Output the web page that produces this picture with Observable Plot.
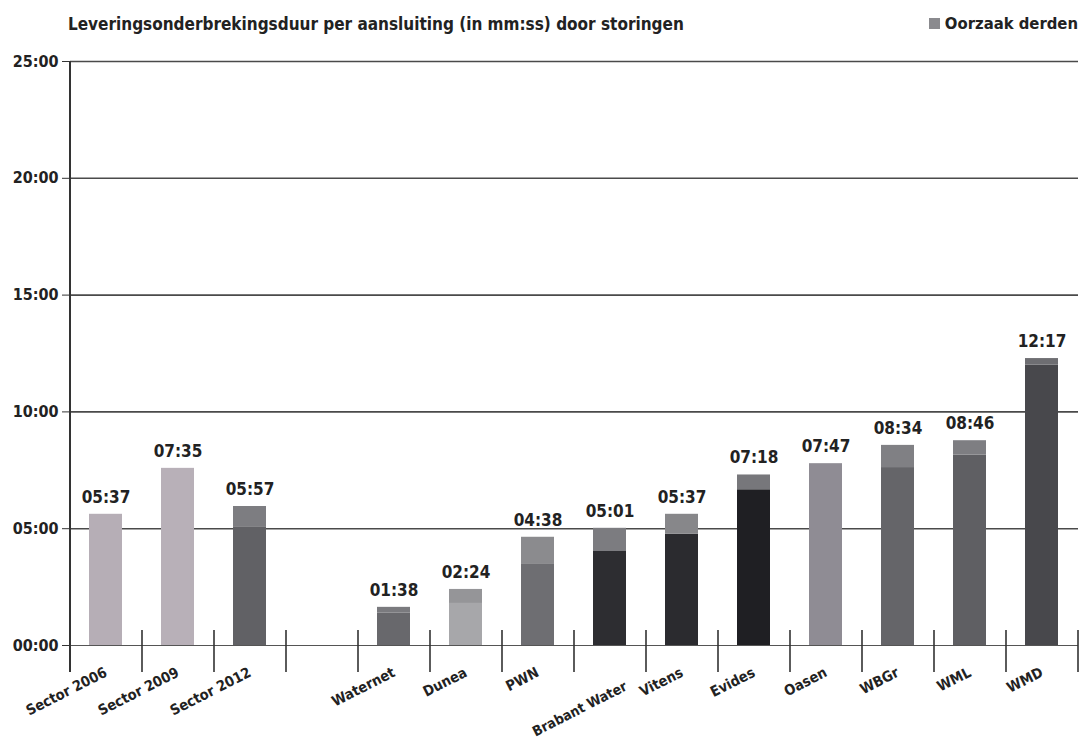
<!DOCTYPE html>
<html>
<head>
<meta charset="utf-8">
<script src="https://cdn.jsdelivr.net/npm/d3@7"></script>
<script src="https://cdn.jsdelivr.net/npm/@observablehq/plot@0.6"></script>
<style>
  html, body { margin: 0; padding: 0; background: #fff; }
  body { width: 1081px; height: 740px; overflow: hidden; font-family: "DejaVu Sans Condensed", "Liberation Sans Narrow", sans-serif; font-stretch: condensed; color: #222; }
  #header { position: relative; height: 40px; }
  #title { position: absolute; left: 68px; top: 14px; font-size: 17px; font-weight: bold; white-space: nowrap; }
  #legend { position: absolute; right: 3px; top: 14px; font-size: 16.5px; font-weight: bold; white-space: nowrap; display: flex; align-items: center; }
  #legend .sw { width: 11px; height: 11px; background: #8a8a8e; margin-right: 5px; display: inline-block; }
</style>
</head>
<body>
<div id="header">
  <div id="title">Leveringsonderbrekingsduur per aansluiting (in mm:ss) door storingen</div>
  <div id="legend"><span class="sw"></span>Oorzaak derden</div>
</div>
<div id="chart"></div>
<script>
// ---- data ----
const categories = ["Sector 2006", "Sector 2009", "Sector 2012", "Waternet", "Dunea", "PWN", "Brabant Water", "Vitens", "Evides", "Oasen", "WBGr", "WML", "WMD"];
const totals     = ["05:37", "07:35", "05:57", "01:38", "02:24", "04:38", "05:01", "05:37", "07:18", "07:47", "08:34", "08:46", "12:17"];
const derden     = ["00:00", "00:00", "00:52", "00:15", "00:36", "01:08", "00:58", "00:51", "00:38", "00:00", "00:57", "00:37", "00:17"];
const yTicks     = [0, 5, 10, 15, 20, 25];
const gapAfter   = "Sector 2012"; // empty slot between sector averages and companies
const lowered    = ["Brabant Water"]; // label placed on a second row

// ---- styles ----
const barColors = {
  "Sector 2006":   ["#b6aeb6", "#b6aeb6"],
  "Sector 2009":   ["#b8b0b8", "#b8b0b8"],
  "Sector 2012":   ["#616165", "#7d7d81"],
  "Waternet":      ["#68686c", "#7a7a7e"],
  "Dunea":         ["#a7a7aa", "#959598"],
  "PWN":           ["#6e6e72", "#8b8b8e"],
  "Brabant Water": ["#2d2d31", "#7c7c80"],
  "Vitens":        ["#2b2b2f", "#87878a"],
  "Evides":        ["#1f1f23", "#77777b"],
  "Oasen":         ["#8f8c94", "#8f8c94"],
  "WBGr":          ["#656569", "#808084"],
  "WML":           ["#5f5f63", "#7e7e82"],
  "WMD":           ["#48484c", "#6e6e72"]
};
const fontFamily = '"DejaVu Sans Condensed", "Liberation Sans Narrow", sans-serif';

// ---- helpers ----
const toMin = s => { const [m, ss] = s.split(":").map(Number); return m + ss / 60; };
const fmt = v => String(Math.round(v)).padStart(2, "0") + ":00";

const GAP = "\u2002";
const domain = [];
categories.forEach(c => { domain.push(c); if (c === gapAfter) domain.push(GAP); });

const segs = [];
categories.forEach((c, i) => {
  const t = toMin(totals[i]), d = toMin(derden[i]);
  segs.push({cat: c, part: "other", value: t - d, color: barColors[c][0]});
  if (d > 0) segs.push({cat: c, part: "derden", value: d, color: barColors[c][1]});
});
const labels = categories.map((c, i) => ({cat: c, total: toMin(totals[i]), text: totals[i]}));

const W = 1081, H = 700;
const mL = 70, mR = 3, mT = 21, mB = 95;
const step = (W - mL - mR) / domain.length;

const chart = Plot.plot({
  width: W,
  height: H,
  marginLeft: mL,
  marginRight: mR,
  marginTop: mT,
  marginBottom: mB,
  style: {fontFamily, fontWeight: "bold", color: "#222", background: "#fff", overflow: "visible"},
  x: {domain, axis: null, paddingInner: 0.54, paddingOuter: 0.27},
  y: {domain: [0, 25], axis: null},
  color: {type: "identity"},
  marks: [
    Plot.ruleY(yTicks.filter(v => v > 0), {stroke: "#4a4a4a", strokeWidth: 1.6}),
    Plot.ruleY([0], {stroke: "#555", strokeWidth: 1}),
    Plot.axisY({ticks: yTicks, tickFormat: fmt, tickSize: 8, tickPadding: 4, label: null, fontSize: 16, fontWeight: "bold", stroke: "#333"}),
    Plot.barY(segs, {x: "cat", y: "value", fill: "color"}),
    // vertical axis line
    Plot.ruleX([categories[0]], {x: d => d, y1: () => 25, y2: () => 0, dx: -step / 2, insetBottom: -27, stroke: "#333", strokeWidth: 2}),
    // category separator ticks
    Plot.ruleX(domain.slice(1), {x: d => d, y1: () => 0, y2: () => 0, dx: -step / 2, insetTop: -15, insetBottom: -27, stroke: "#333", strokeWidth: 1.6}),
    Plot.ruleX([domain[domain.length - 1]], {x: d => d, y1: () => 0, y2: () => 0, dx: step / 2, insetTop: -15, insetBottom: -27, stroke: "#333", strokeWidth: 1.6}),
    // value labels
    Plot.text(labels, {x: "cat", y: "total", text: "text", dy: -17, fontSize: 17, fontWeight: "bold", fill: "#222"}),
    // category labels
    Plot.text(categories.filter(c => !lowered.includes(c)), {x: d => d, y: () => 0, text: d => d, rotate: -27, textAnchor: "end", dx: 0, dy: 26, fontSize: 14.5, fontWeight: "bold", fill: "#222"}),
    Plot.text(categories.filter(c => lowered.includes(c)), {x: d => d, y: () => 0, text: d => d, rotate: -27, textAnchor: "end", dx: 16, dy: 40, fontSize: 14, fontWeight: "bold", fill: "#222"})
  ]
});
document.getElementById("chart").appendChild(chart);
</script>
</body>
</html>
